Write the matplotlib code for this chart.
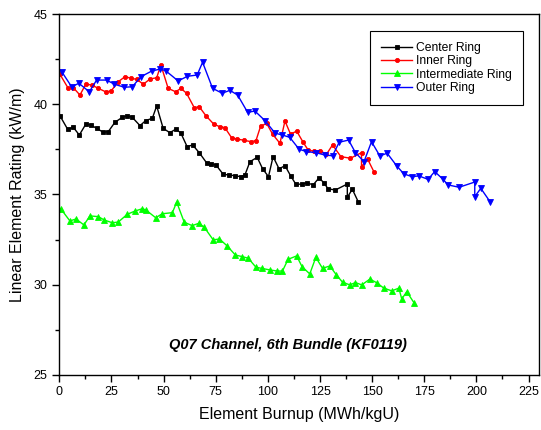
import matplotlib
matplotlib.use("Agg")
import matplotlib.pyplot as plt
from matplotlib.ticker import MultipleLocator

plt.rcParams['font.family'] = ['Liberation Sans', 'DejaVu Sans']

# Center Ring
center_x = [0.3, 4.0, 6.7, 9.6, 12.7, 15.1, 17.9, 21.1, 23.5, 26.7, 30.2, 32.6, 35.0,
            38.7, 41.4, 44.6, 46.7, 49.8, 53.0, 55.8, 58.2, 61.3, 63.9, 67.1, 70.6,
            72.5, 75.1, 78.6, 81.5, 84.2, 86.9, 89.0, 91.4, 94.9, 97.5, 100.3, 102.5,
            105.4, 108.2, 110.9, 113.4, 116.2, 118.8, 121.7, 124.6, 127.0, 128.9,
            132.4, 138.1, 138.1, 140.5, 143.3]
center_y = [39.37, 38.62, 38.73, 38.30, 38.90, 38.86, 38.67, 38.45, 38.49, 39.01, 39.28,
            39.37, 39.28, 38.82, 39.10, 39.23, 39.91, 38.67, 38.43, 38.62, 38.43, 37.65,
            37.75, 37.32, 36.76, 36.69, 36.64, 36.12, 36.08, 36.04, 35.99, 36.08, 36.82,
            37.06, 36.42, 35.99, 37.10, 36.42, 36.60, 36.04, 35.57, 35.57, 35.65, 35.53,
            35.93, 35.62, 35.31, 35.25, 35.58, 34.84, 35.29, 34.60]

# Inner Ring
inner_x = [0.3, 4.3, 6.7, 9.9, 12.7, 15.5, 18.7, 22.2, 24.8, 28.3, 31.5, 34.4, 37.1,
           40.3, 43.5, 46.7, 48.7, 52.2, 55.8, 58.3, 61.0, 64.7, 67.1, 70.3, 74.1,
           77.0, 79.4, 82.6, 85.0, 88.5, 91.9, 94.3, 96.5, 99.4, 102.3, 105.8, 108.2,
           110.9, 113.8, 116.9, 119.3, 122.3, 125.1, 128.1, 131.0, 135.0, 139.6,
           144.9, 144.9, 147.8, 150.8]
inner_y = [41.67, 40.89, 40.93, 40.52, 41.12, 41.08, 40.89, 40.70, 40.74, 41.26, 41.54,
           41.45, 41.39, 41.12, 41.41, 41.48, 42.19, 40.89, 40.70, 40.89, 40.62, 39.82,
           39.87, 39.37, 38.90, 38.76, 38.71, 38.15, 38.08, 38.01, 37.93, 37.99, 38.78,
           38.95, 38.34, 37.84, 39.08, 38.34, 38.52, 37.90, 37.47, 37.39, 37.43, 37.23,
           37.75, 37.10, 37.01, 37.32, 36.54, 36.97, 36.27]

# Intermediate Ring
inter_x = [0.8, 5.1, 8.0, 11.8, 14.7, 18.7, 21.6, 25.4, 28.3, 32.6, 36.3, 39.8, 41.5,
           46.2, 49.4, 54.2, 56.3, 59.9, 63.7, 66.9, 69.5, 73.8, 76.8, 80.6, 84.4,
           87.7, 90.6, 94.3, 97.0, 101.0, 104.5, 107.0, 109.7, 113.8, 116.4, 120.1,
           123.0, 126.2, 129.7, 132.9, 135.8, 139.3, 142.0, 145.0, 148.9, 152.2,
           155.6, 159.4, 162.8, 164.2, 166.6, 170.0]
inter_y = [34.19, 33.53, 33.64, 33.31, 33.81, 33.77, 33.58, 33.43, 33.47, 33.90, 34.08,
           34.21, 34.14, 33.71, 33.93, 33.99, 34.57, 33.46, 33.27, 33.40, 33.18, 32.48,
           32.53, 32.13, 31.64, 31.55, 31.46, 30.96, 30.90, 30.81, 30.75, 30.75, 31.40,
           31.59, 30.99, 30.59, 31.51, 30.90, 31.03, 30.53, 30.13, 29.98, 30.11, 29.98,
           30.30, 30.10, 29.80, 29.65, 29.80, 29.20, 29.60, 29.00]

# Outer Ring
outer_x = [1.2, 5.9, 9.4, 14.4, 17.9, 22.7, 26.4, 31.2, 35.0, 39.2, 44.3, 48.3, 51.0,
           57.0, 61.4, 66.1, 68.7, 73.5, 78.1, 81.8, 85.5, 90.3, 93.8, 98.6, 103.5,
           107.0, 110.5, 115.0, 118.5, 123.0, 127.3, 131.0, 134.2, 138.7, 142.0,
           146.1, 149.7, 153.7, 157.2, 161.7, 165.2, 169.1, 172.4, 176.8, 180.0,
           184.0, 186.4, 191.7, 199.2, 199.2, 202.1, 206.7]
outer_y = [41.81, 40.98, 41.17, 40.70, 41.35, 41.35, 41.12, 40.95, 40.98, 41.54, 41.85,
           41.96, 41.87, 41.30, 41.56, 41.63, 42.34, 40.89, 40.62, 40.78, 40.52, 39.56,
           39.63, 39.10, 38.40, 38.30, 38.17, 37.51, 37.38, 37.32, 37.19, 37.15, 37.90,
           38.02, 37.32, 36.82, 37.93, 37.14, 37.29, 36.60, 36.14, 35.99, 36.03, 35.84,
           36.27, 35.84, 35.53, 35.40, 35.69, 34.88, 35.34, 34.57]

series = [
    ("Center Ring", center_x, center_y, "#000000", "s", 3.0),
    ("Inner Ring", inner_x, inner_y, "#FF0000", "o", 3.0),
    ("Intermediate Ring", inter_x, inter_y, "#00FF00", "^", 3.8),
    ("Outer Ring", outer_x, outer_y, "#0000FF", "v", 3.8),
]

fig = plt.figure(figsize=(5.41, 4.30), dpi=100)
ax = fig.add_axes([0.1096, 0.1288, 0.8867, 0.8379])

for label, xs, ys, color, marker, ms in series:
    ax.plot(xs, ys, color=color, marker=marker, markersize=ms, linewidth=1.0,
            markeredgewidth=0.6, label=label)

ax.set_xlim(0, 230)
ax.set_ylim(25, 45)
ax.xaxis.set_major_locator(MultipleLocator(25))
ax.xaxis.set_minor_locator(MultipleLocator(12.5))
ax.yaxis.set_major_locator(MultipleLocator(5))
ax.yaxis.set_minor_locator(MultipleLocator(2.5))
ax.tick_params(which='both', direction='out', top=False, right=False,
               labelsize=9, width=1.0)
ax.tick_params(which='major', length=5)
ax.tick_params(which='minor', length=3)
for sp in ax.spines.values():
    sp.set_linewidth(1.0)

ax.set_xlabel("Element Burnup (MWh/kgU)", fontsize=11.5, labelpad=6)
ax.set_ylabel("Linear Element Rating (kW/m)", fontsize=11.5, labelpad=6)

ax.text(109.6, 26.65, "Q07 Channel, 6th Bundle (KF0119)", fontsize=10.5,
        fontweight='bold', fontstyle='italic', ha='center', va='center')

leg = ax.legend(loc='upper right', bbox_to_anchor=(0.966, 0.954), fontsize=8.7,
                frameon=True, fancybox=False, edgecolor='black', framealpha=1,
                handlelength=2.6, labelspacing=0.12, borderpad=0.9,
                handletextpad=0.3, borderaxespad=0)
leg.get_frame().set_linewidth(0.8)

fig.savefig("out.png", dpi=100)
